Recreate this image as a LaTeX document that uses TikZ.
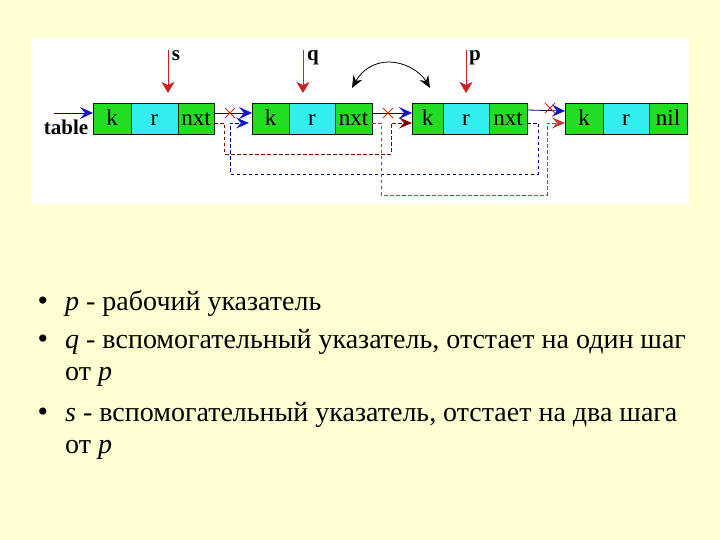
\documentclass[tikz,border=0pt]{standalone}
\usepackage{fontspec}
\setmainfont{Liberation Serif}
\usetikzlibrary{arrows.meta,calc,shapes.misc}
\definecolor{pagebg}{HTML}{FFFFD2}
\definecolor{cellg}{HTML}{22DD22}
\definecolor{cellc}{HTML}{33EEEE}
\definecolor{linknavy}{HTML}{000080}
\definecolor{tipblue}{HTML}{1414C8}
\definecolor{ptrred}{HTML}{CC2222}
\definecolor{darkred}{HTML}{800000}
\definecolor{dashred}{HTML}{CC3333}
\definecolor{xred}{HTML}{DD2222}
\begin{document}
\begin{tikzpicture}[x=1pt,y=-1pt,
  cellbox/.style={draw=black!85!green, line width=0.6pt, inner sep=0pt, outer sep=0pt,
    minimum height=31pt, text height=15pt, text depth=0pt,
    anchor=north west, font=\fontsize{23}{23}\selectfont},
  gcell/.style={cellbox, fill=cellg},
  ccell/.style={cellbox, fill=cellc},
  linkline/.style={draw=linknavy, line width=0.8pt,
    -{Stealth[length=13pt,width=12pt,inset=5pt,color=tipblue]}},
  ptrline/.style={draw=ptrred, line width=0.9pt,
    -{Stealth[length=11pt,width=13pt,inset=3pt,color=ptrred]}},
  ptrlabel/.style={font=\fontsize{21}{21}\selectfont\bfseries, anchor=base},
  xmark/.style={cross out, draw=xred, line width=0.9pt, minimum size=9pt, inner sep=0pt},
  dashbase/.style={line width=0.7pt, dash pattern=on 3.5pt off 2.5pt},
  navydash/.style={dashbase, draw=linknavy,
    -{Stealth[length=13pt,width=11pt,inset=5pt,color=tipblue]}},
  browndash/.style={dashbase, draw=darkred,
    -{Stealth[length=13pt,width=11pt,inset=5pt,color=darkred]}},
  reddash/.style={dashbase, draw=dashred,
    -{Stealth[length=13pt,width=11pt,inset=5pt,color=dashred]}},
  bodytext/.style={font=\fontsize{28}{32}\selectfont, anchor=base west, inner sep=0pt},
  bullet/.style={font=\fontsize{30}{30}\selectfont, anchor=base, inner sep=0pt}
]
% page and panel
\fill[pagebg] (0,0) rectangle (720,540);
\useasboundingbox (0,0) rectangle (720,540);
\fill[white] (31,38) rectangle (689,204);

% list nodes
\node[gcell, minimum width=38pt] (n1k) at (93,103) {k};
\node[ccell, minimum width=47pt] (n1r) at (131,103) {r};
\node[gcell, minimum width=36pt] (n1x) at (178,103) {nxt};

\node[gcell, minimum width=37pt] (n2k) at (252,103) {k};
\node[ccell, minimum width=46pt] (n2r) at (289,103) {r};
\node[gcell, minimum width=37pt] (n2x) at (335,103) {nxt};

\node[gcell, minimum width=31pt] (n3k) at (412,103) {k};
\node[ccell, minimum width=46pt] (n3r) at (443,103) {r};
\node[gcell, minimum width=38pt] (n3x) at (489,103) {nxt};

\node[gcell, minimum width=38pt] (n4k) at (565,103) {k};
\node[ccell, minimum width=46pt] (n4r) at (603,103) {r};
\node[gcell, minimum width=38pt] (n4x) at (649,103) {nil};

% table
\node[font=\fontsize{21}{21}\selectfont\bfseries, anchor=base] (tbl) at (66,135) {table};
\coordinate (tA) at (54,113);
\draw[linkline] (tA) -- ($(n1k.north west)+(0,10)$);

% solid links
\draw[linkline] ($(n1x.north east)+(0,10)$) -- ($(n2k.north west)+(0,10)$);
\draw[linkline] ($(n2x.north east)+(0,10)$) -- ($(n3k.north west)+(0,10)$);
\draw[linkline] ($(n3x.north east)+(0,7)$) -- ($(n4k.north west)+(0,8)$);

% crosses
\node[xmark] (x1) at (230,113) {};
\node[xmark] (x2) at (388,113) {};
\node[xmark] (x3) at (550,108) {};

% dashed re-links
\draw[browndash] ($(n1x.north east)+(0,20)$) -| (224,154) -| (391,123) -- ($(n3k.north west)+(0,20)$);
\draw[navydash] ($(n3x.north east)+(0,20)$) -| (538,174) -| (230,123) -- ($(n2k.north west)+(-3,20)$);
\draw[reddash] ($(n2x.north east)+(0,20)$) -| (381,195) -| (547,123) -- ($(n4k.north west)+(0,20)$);

% pointers
\coordinate (sA) at (168,50); \coordinate (sB) at (168,93);
\coordinate (qA) at (303,50); \coordinate (qB) at (303,93);
\coordinate (pA) at (466,50); \coordinate (pB) at (466,93);
\draw[ptrline] (sA) -- (sB);
\draw[ptrline] (qA) -- (qB);
\draw[ptrline] (pA) -- (pB);
\node[ptrlabel] (sL) at (176,61) {s};
\node[ptrlabel] (qL) at (313,61) {q};
\node[ptrlabel] (pL) at (475,61) {p};

% swap arrow
\coordinate (cL) at (352,88);
\coordinate (cR) at (430,88);
\draw[line width=0.8pt, {Stealth[length=12pt,width=10pt,inset=4pt]}-{Stealth[length=12pt,width=10pt,inset=4pt]}]
  (cL) .. controls (362,70) and (374,62) .. (389,62) .. controls (404,62) and (420,71) .. (cR);

% bullet text
\node[bullet] (b1) at (43,310) {•};
\node[bodytext] (t1) at (65,310) {\textit{p} - рабочий указатель};
\node[bullet] (b2) at (43,348) {•};
\node[bodytext] (t2) at (65,348) {\textit{q} - вспомогательный указатель, отстает на один шаг};
\node[bodytext] (t3) at (65,380) {от \textit{p}};
\node[bullet] (b3) at (43,421) {•};
\node[bodytext] (t4) at (65,421) {\textit{s} - вспомогательный указатель, отстает на два шага};
\node[bodytext] (t5) at (65,453) {от \textit{p}};
\end{tikzpicture}
\end{document}
